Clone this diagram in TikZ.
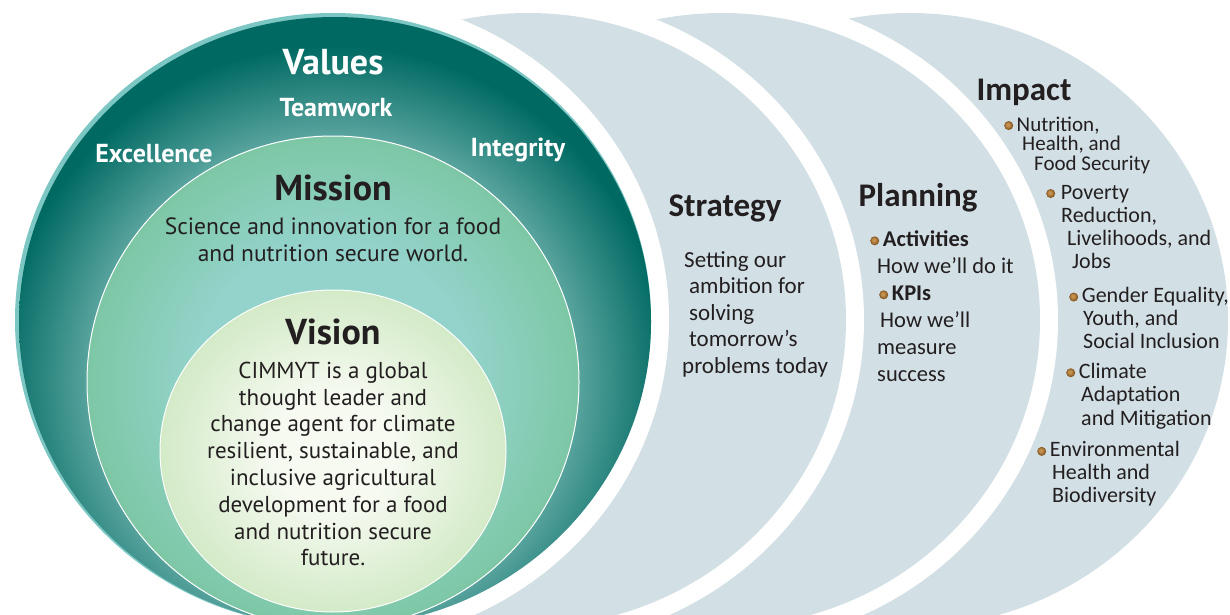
\documentclass[tikz,border=0pt]{standalone}
\usepackage{fontspec}
\setmainfont{PT Sans}
\newfontfamily\calib{Carlito}
\definecolor{lightblue}{HTML}{D2E0E6}
\definecolor{tealdark}{HTML}{006A62}
\definecolor{teallight}{HTML}{5AA49F}
\definecolor{tealrim}{HTML}{7CC6C3}
\definecolor{mintedge}{HTML}{7DC7A5}
\definecolor{mintmid}{HTML}{93D3CB}
\definecolor{paleedge}{HTML}{D3EAC7}
\definecolor{palemid}{HTML}{F6FAF1}
\definecolor{bulletlight}{HTML}{C4924E}
\definecolor{bulletdark}{HTML}{7E4E1C}
\definecolor{ink}{HTML}{231F20}
\pgfdeclareradialshading{darkglow}{\pgfpoint{0bp}{0bp}}{color(0bp)=(teallight); color(16bp)=(teallight); color(22bp)=(tealdark); color(50bp)=(tealdark)}
\pgfdeclareradialshading{mintglow}{\pgfpoint{0bp}{0bp}}{color(0bp)=(mintmid); color(14bp)=(mintmid); color(25bp)=(mintedge); color(50bp)=(mintedge)}
\pgfdeclareradialshading{paleglow}{\pgfpoint{0bp}{0bp}}{color(0bp)=(palemid); color(9bp)=(palemid); color(25bp)=(paleedge); color(50bp)=(paleedge)}
\pgfdeclareradialshading{bulletglow}{\pgfpoint{-6bp}{6bp}}{color(0bp)=(bulletlight); color(8bp)=(bulletlight); color(25bp)=(bulletdark); color(50bp)=(bulletdark)}
\newcommand\fsz[2]{\fontsize{#1}{#2}\selectfont}
\newcommand\bul{\tikz[baseline=-5.5pt]\shade[shading=bulletglow] (0,0) circle (4.5pt);}
\begin{document}
\begin{tikzpicture}[x=1pt,y=-1pt,
  txt/.style={inner sep=0pt, text=ink},
  valtxt/.style={inner sep=0pt, text=white, font=\bfseries\fsz{26}{30}},
  ttl/.style={inner sep=0pt, text=ink, font=\bfseries\fsz{36}{40}},
  rttl/.style={inner sep=0pt, text=ink, font=\calib\bfseries\fsz{33}{36}},
  rbody/.style={inner sep=0pt, text=ink, align=left, anchor=west}]
\useasboundingbox (0,0) rectangle (1230,615);
\clip (0,0) rectangle (1230,615);
% back circles
\foreach \cx in {910,722,528}{
  \fill[white] (\cx,320) ellipse [x radius=336pt, y radius=325pt];
  \fill[lightblue] (\cx,320) ellipse [x radius=318pt, y radius=307pt];
}
% values circle
\fill[white] (333,320) ellipse [x radius=336pt, y radius=325pt];
\fill[tealrim] (333,320) ellipse [x radius=318pt, y radius=307pt];
\begin{scope}
  \clip (335,322) ellipse [x radius=316pt, y radius=305pt];
  \shade[shading=darkglow] (333,380) circle (380pt);
\end{scope}
% mission circle
\shade[shading=mintglow] (333,382) circle (246pt);
\draw[white, line width=1pt] (333,382) circle (246pt);
% vision circle
\shade[shading=paleglow] (333,451) ellipse [x radius=173pt, y radius=161pt];
\draw[white, line width=1pt] (333,451) ellipse [x radius=173pt, y radius=161pt];
% values texts
\node[inner sep=0pt, text=white, font=\bfseries\fsz{36}{40}] (values) at (333,62) {Values};
\node[valtxt] (teamwork) at (336,108) {Teamwork};
\node[valtxt] (excellence) at (154,154) {Excellence};
\node[valtxt] (integrity) at (518,150) {Integrity};
% mission
\node[ttl] (mission) at (333,188) {Mission};
\node[txt, align=center, font=\fsz{23.5}{27}] (missiontext) at (333,240)
  {Science and innovation for a food\\and nutrition secure world.};
% vision
\node[ttl] (vision) at (333,332) {Vision};
\node[txt, align=center, font=\fsz{23}{26.8}] (visiontext) at (333,464)
  {CIMMYT is a global\\thought leader and\\change agent for climate\\resilient, sustainable, and\\inclusive agricultural\\development for a food\\and nutrition secure\\future.};
% strategy
\node[rttl] (strategy) at (725,208) {Strategy};
\node[rbody, font=\calib\fsz{23}{26.5}] (strategytext) at (682,314)
  {\hspace*{2pt}Setting our\\\hspace*{7pt}ambition for\\\hspace*{7pt}solving\\\hspace*{7pt}tomorrow’s\\problems today};
% planning
\node[rttl] (planning) at (918,198) {Planning};
\node[rbody, font=\calib\fsz{22.5}{27}] (planningtext) at (870,306)
  {\bul\,\textbf{Activities}\\\hspace*{7pt}How we’ll do it\\\hspace*{9pt}\bul\,\textbf{KPIs}\\\hspace*{10pt}How we’ll\\\hspace*{7pt}measure\\\hspace*{7pt}success};
% impact
\node[rttl] (impact) at (1024,92) {Impact};
\node[rbody, font=\calib\fsz{21}{19.5}] (imp1) at (1004,145)
  {\bul\,Nutrition,\\\hspace*{18pt}Health, and\\\hspace*{30pt}Food Security};
\node[rbody, font=\calib\fsz{22}{23.3}] (imp2) at (1046,227)
  {\bul\,\hspace*{2pt}Poverty\\\hspace*{15pt}Reduction,\\\hspace*{21pt}Livelihoods, and\\\hspace*{26pt}Jobs};
\node[rbody, font=\calib\fsz{22}{23}] (imp3) at (1069,318)
  {\bul\,Gender Equality,\\\hspace*{14pt}Youth, and\\\hspace*{14pt}Social Inclusion};
\node[rbody, font=\calib\fsz{22}{23.5}] (imp4) at (1066,396)
  {\bul\,Climate\\\hspace*{15pt}Adaptation\\\hspace*{15pt}and Mitigation};
\node[rbody, font=\calib\fsz{22}{23}] (imp5) at (1037,474)
  {\bul\,Environmental\\\hspace*{15pt}Health and\\\hspace*{15pt}Biodiversity};
\end{tikzpicture}
\end{document}
